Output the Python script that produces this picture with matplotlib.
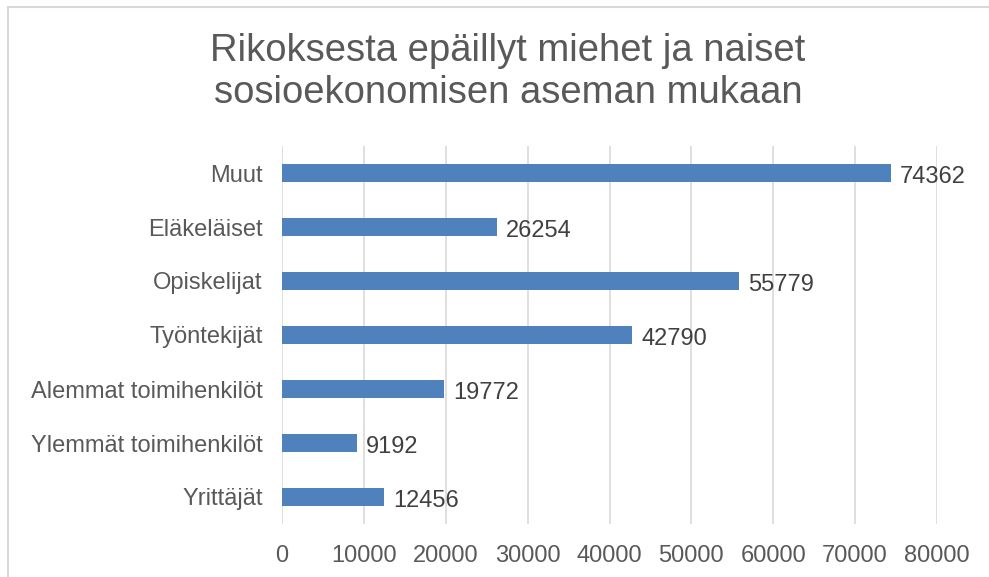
import matplotlib.pyplot as plt
from matplotlib.patches import Rectangle

# Data
categories = ["Yrittäjät", "Ylemmät toimihenkilöt", "Alemmat toimihenkilöt",
              "Työntekijät", "Opiskelijat", "Eläkeläiset", "Muut"]
values = [12456, 9192, 19772, 42790, 55779, 26254, 74362]
xticks = [0, 10000, 20000, 30000, 40000, 50000, 60000, 70000, 80000]

W, H = 989, 577
txt = "#595959"
plt.rcParams['font.family'] = ['Liberation Sans', 'DejaVu Sans']

fig = plt.figure(figsize=(W / 100, H / 100), dpi=100)
ax = fig.add_axes([282 / W, 1 - 524 / H, (937 - 282) / W, (524 - 146) / H])

ax.barh(range(len(categories)), values, height=0.34, color="#4F81BD", zorder=3)
for i, v in enumerate(values):
    ax.text(v + 1100, i - 0.07, str(v), va="center", ha="left", fontsize=17, color="#404040")

ax.set_xlim(0, 80000)
ax.set_ylim(-0.5, len(categories) - 0.5)
ax.set_xticks(xticks)
ax.set_xticklabels([str(t) for t in xticks])
ax.set_yticks(range(len(categories)))
ax.set_yticklabels(categories)
ax.tick_params(axis="both", length=0, labelsize=17, colors=txt)
ax.tick_params(axis="x", pad=15)
ax.tick_params(axis="y", pad=14)
ax.grid(axis="x", color="#D9D9D9", linewidth=1.2, zorder=0)
for s in ax.spines.values():
    s.set_visible(False)

fig.text(508 / W, 1 - 72 / H, "Rikoksesta epäillyt miehet ja naiset\nsosioekonomisen aseman mukaan",
         ha="center", va="center", fontsize=27.5, color=txt, linespacing=1.22)

# chart area border (left and top visible)
fig.patches.append(Rectangle((8 / W, -0.1), 1.2, 1 - 7 / H + 0.1, transform=fig.transFigure,
                             fill=False, edgecolor="#D9D9D9", linewidth=1.5))

fig.savefig("out.png", dpi=100)
